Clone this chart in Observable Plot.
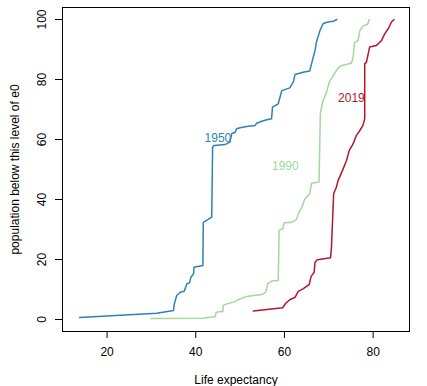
<!DOCTYPE html>
<html>
<head>
<meta charset="utf-8">
<script src="https://cdn.jsdelivr.net/npm/d3@7"></script>
<script src="https://cdn.jsdelivr.net/npm/@observablehq/plot@0.6"></script>
<style>
  html, body { margin: 0; padding: 0; background: #fff; }
  #chart svg { display: block; font-family: "Liberation Sans", Arial, sans-serif; }
</style>
</head>
<body>
<div id="chart"></div>
<script>
const e1950x = [13.8,31.2,35.0,35.1,35.7,36.5,37.4,38.0,38.6,38.9,39.5,39.6,41.6,41.7,43.6,43.8,44.1,46.6,47.7,48.1,48.9,49.2,50.0,51.5,53.4,53.7,54.9,56.0,57.1,57.3,58.6,59.4,61.2,62.0,62.4,64.2,65.7,66.1,66.5,66.9,67.2,68.0,68.7,69.5,71.0,71.8];
const e1950y = [0.7,2.1,3.0,4.7,8.0,9.1,9.4,11.9,12.2,14.1,15.2,17.4,18.0,32.4,34.1,57.4,58.0,58.3,59.1,61.9,62.4,63.6,63.9,64.3,64.7,65.4,66.1,66.6,66.9,70.8,71.9,76.3,77.2,79.1,81.7,82.4,82.8,85.2,87.4,89.7,92.4,96.3,98.6,99.1,99.4,100];

const e1990x = [29.9,41.7,44.4,44.6,46.1,46.2,47.0,48.5,50.0,51.5,53.0,54.9,55.8,56.2,57.1,58.6,58.8,59.7,59.9,61.6,62.7,63.1,63.9,64.6,65.7,66.1,67.8,68.1,68.7,69.5,70.1,71.0,72.1,72.9,75.1,75.5,75.8,76.6,77.0,77.7,78.8,79.1];
const e1990y = [0.3,0.4,1.0,2.4,2.7,4.7,5.2,5.8,6.9,7.7,8.0,8.3,9.1,11.9,12.8,13.0,29.7,30.4,32.2,32.4,33.3,35.2,37.4,40.2,41.9,45.4,45.8,68.6,73.0,75.8,79.1,81.3,83.9,84.7,85.4,87.4,92.4,93.0,96.3,97.8,98.5,100];

const e2019x = [53.0,59.6,60.3,61.2,62.4,63.1,64.2,65.6,66.0,66.7,66.9,67.4,70.4,70.6,71.1,71.7,72.1,73.1,74.0,74.6,75.5,76.2,77.0,77.7,78.1,78.1,78.5,79.2,80.7,81.9,82.6,83.4,84.1,84.7];
const e2019y = [2.8,3.9,5.4,6.6,7.4,9.4,10.2,11.7,14.3,15.8,19.1,19.9,20.6,24.1,41.9,44.1,46.3,49.7,53.0,56.3,58.6,61.3,63.0,64.7,66.9,85.2,85.8,90.8,91.3,93.0,95.2,96.9,99.1,100];

const years = ["1950", "1990", "2019"];
const yearColors = ["#2b83ba", "#a1d99b", "#b2182b"];
const labelX = [45.0, 60.2, 75.1];
const labelY = [60.6, 51.1, 73.7];

const xTicks = [20, 40, 60, 80];
const yTicks = [0, 20, 40, 60, 80, 100];
const xTitle = "Life expectancy";
const yTitle = "population below this level of e0";

const series = [[e1950x, e1950y], [e1990x, e1990y], [e2019x, e2019y]];
const lineData = series.flatMap(([xs, ys], i) => xs.map((x, j) => ({year: years[i], x, y: ys[j]})));
const labelData = years.map((year, i) => ({year, x: labelX[i], y: labelY[i]}));

const chart = Plot.plot({
  width: 427,
  height: 386,
  marginLeft: 62,
  marginRight: 18,
  marginTop: 7,
  marginBottom: 55,
  style: {fontFamily: '"Liberation Sans", Arial, sans-serif', fontSize: "12px", color: "#000", background: "#fff"},
  x: {domain: [9.95, 88.2]},
  y: {domain: [-4, 104]},
  color: {domain: years, range: yearColors},
  marks: [
    Plot.axisX({ticks: xTicks, tickSize: 7, tickPadding: 9, fontSize: 12, label: null, stroke: "#000", strokeOpacity: 1}),
    Plot.axisY({ticks: yTicks, tickSize: 7, tickFormat: () => "", label: null, stroke: "#000", strokeOpacity: 1}),
    Plot.text(yTicks, {y: d => d, text: d => String(d), frameAnchor: "left", dx: -20, rotate: -90, textAnchor: "middle", lineAnchor: "middle", fontSize: 12, fill: "#000"}),
    Plot.text([xTitle], {text: d => d, frameAnchor: "bottom", dy: 49, lineAnchor: "middle", fontSize: 12, fill: "#000"}),
    Plot.text([yTitle], {text: d => d, frameAnchor: "left", dx: -47, rotate: -90, textAnchor: "middle", lineAnchor: "middle", fontSize: 12, fill: "#000"}),
    Plot.line(lineData, {x: "x", y: "y", z: "year", stroke: "year", strokeWidth: 1.5}),
    Plot.text(labelData, {x: "x", y: "y", text: "year", fill: "year", fontSize: 12, lineAnchor: "middle"}),
    Plot.frame({stroke: "#000", strokeWidth: 1})
  ]
});
document.getElementById("chart").appendChild(chart);
</script>
</body>
</html>
